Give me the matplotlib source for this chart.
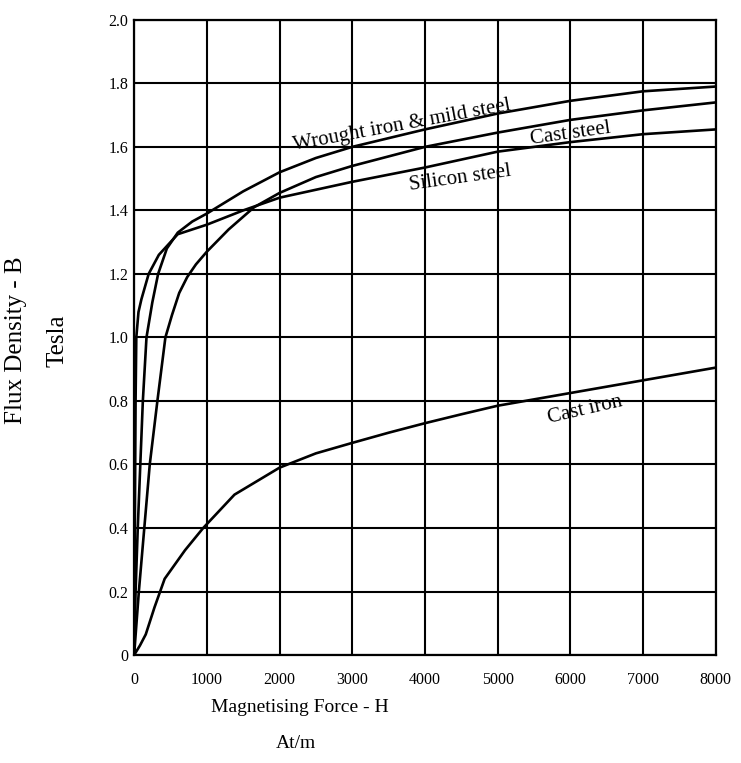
import matplotlib
matplotlib.use("Agg")
import matplotlib.pyplot as plt

plt.rcParams['font.family'] = ['Liberation Serif', 'DejaVu Serif']

# B-H curves (H in At/m, B in Tesla)
wrought_h = [0, 20, 50, 85, 120, 170, 250, 330, 450, 600, 800, 1000, 1500, 2000, 2500, 3000, 4000, 5000, 6000, 7000, 8000]
wrought_b = [0, 0.2, 0.4, 0.6, 0.8, 1.0, 1.11, 1.2, 1.28, 1.33, 1.365, 1.39, 1.46, 1.52, 1.565, 1.60, 1.655, 1.705, 1.745, 1.775, 1.79]

cast_steel_h = [0, 65, 140, 215, 320, 430, 520, 620, 730, 850, 1000, 1300, 1650, 2000, 2500, 3000, 4000, 5000, 6000, 7000, 8000]
cast_steel_b = [0, 0.2, 0.4, 0.6, 0.8, 1.0, 1.07, 1.14, 1.19, 1.23, 1.27, 1.34, 1.41, 1.455, 1.505, 1.54, 1.60, 1.645, 1.685, 1.715, 1.74]

silicon_h = [0, 10, 20, 30, 60, 100, 200, 340, 600, 1000, 1500, 2000, 3000, 4000, 5000, 6000, 7000, 8000]
silicon_b = [0, 0.4, 0.8, 1.0, 1.08, 1.12, 1.2, 1.26, 1.325, 1.355, 1.40, 1.44, 1.49, 1.535, 1.585, 1.615, 1.64, 1.655]

cast_iron_h = [0, 80, 160, 280, 420, 700, 950, 1380, 2000, 2500, 3000, 3500, 4000, 4500, 5000, 6000, 7000, 8000]
cast_iron_b = [0, 0.03, 0.065, 0.15, 0.24, 0.33, 0.40, 0.505, 0.59, 0.635, 0.668, 0.70, 0.73, 0.758, 0.785, 0.825, 0.865, 0.905]

x_ticks = [0, 1000, 2000, 3000, 4000, 5000, 6000, 7000, 8000]
y_ticks = [0, 0.2, 0.4, 0.6, 0.8, 1.0, 1.2, 1.4, 1.6, 1.8, 2.0]
y_tick_labels = ['0', '0.2', '0.4', '0.6', '0.8', '1.0', '1.2', '1.4', '1.6', '1.8', '2.0']

fig = plt.figure(figsize=(7.41, 7.63), dpi=100)
ax = fig.add_axes([0.181, 0.1415, 0.785, 0.8325])

for h, b in [(wrought_h, wrought_b), (cast_steel_h, cast_steel_b),
             (silicon_h, silicon_b), (cast_iron_h, cast_iron_b)]:
    ax.plot(h, b, color='black', lw=1.9, solid_joinstyle='round')

ax.set_xlim(0, 8000)
ax.set_ylim(0, 2.0)
ax.set_xticks(x_ticks)
ax.set_xticklabels([str(v) for v in x_ticks])
ax.set_yticks(y_ticks)
ax.set_yticklabels(y_tick_labels)
ax.tick_params(length=0, labelsize=11.5, pad=12)
ax.tick_params(axis='y', pad=4)
ax.grid(True, color='black', lw=1.5)
ax.set_axisbelow(True)
for s in ax.spines.values():
    s.set_linewidth(1.6)

# curve labels
ax.text(3680, 1.668, 'Wrought iron & mild steel', rotation=10.5, fontsize=15,
        ha='center', va='center')
ax.text(6000, 1.642, 'Cast steel', rotation=8, fontsize=15, ha='center', va='center')
ax.text(4480, 1.50, 'Silicon steel', rotation=8, fontsize=15, ha='center', va='center')
ax.text(6200, 0.772, 'Cast iron', rotation=13, fontsize=15, ha='center', va='center')

# axis titles
fig.text(300 / 741, 1 - 707 / 763, 'Magnetising Force - H', fontsize=14, ha='center', va='center')
fig.text(296 / 741, 1 - 744 / 763, 'At/m', fontsize=14, ha='center', va='center')
fig.text(16 / 741, 1 - 340 / 763, 'Flux Density - B', fontsize=18, rotation=90, ha='center', va='center')
fig.text(58 / 741, 1 - 341 / 763, 'Tesla', fontsize=18, rotation=90, ha='center', va='center')

fig.savefig('out.png', dpi=100, facecolor='white')
